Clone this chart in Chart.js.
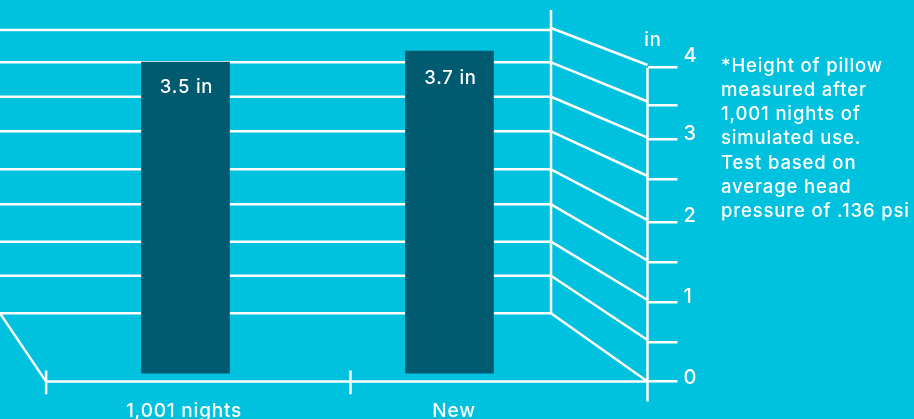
<!DOCTYPE html>
<html>
<head>
<meta charset="utf-8">
<script src="https://cdn.jsdelivr.net/npm/chart.js@4"></script>
<style>
  html, body { margin: 0; padding: 0; background: #00c1de; overflow: hidden; }
  #wrap { position: relative; width: 914px; height: 419px; }
  #note { position: absolute; left: 721px; top: 52.5px; color: #fff; font: 500 18.5px/24.3px Inter, sans-serif;
          letter-spacing: 0.85px; white-space: pre; }
</style>
</head>
<body>
<div id="wrap">
  <canvas id="myCanvas" width="914" height="419"></canvas>
  <div id="note">*Height of pillow
measured after
1,001 nights of
simulated use.
Test based on
average head
pressure of .136 psi</div>
</div>
<script>
const categories = ["1,001 nights", "New"];
const barSlots = [0, 1];
const barValues = [3.5, 3.7];
const barLabels = ["3.5 in", "3.7 in"];
const barLabelDrops = [25, 27];
const categoryLabelSlots = [-0.0057, 1.0171];

const tickLabels = ["0", "1", "2", "3", "4"];
const tickLabelHeights = [0.04, 1.072, 2.11, 3.155, 4.149];
// the drawn ticks are not evenly spaced in the picture
const axisTicks = [0, 0.505, 1.014, 1.52, 2.03, 2.578, 3.088, 3.525, 4];

// back wall, floor and side grid
const wallLevels = [0.87, 1.349, 1.783, 2.259, 2.705, 3.19, 3.63, 4.069, 4.48];
const slantStarts = [0.87, 1.349, 1.783, 2.259, 2.705, 3.19, 3.63, 4.069, 4.506];
const slantEnds = [0, 0.53, 1.04, 1.543, 2.059, 2.62, 3.11, 3.569, 4.034];

const xLeft = -0.7027;
const xFloor = -0.528;
const xMid = 0.625;
const xWall = 1.3845;
const xFront = 1.75;
const wallTop = 4.735;
const frontBottom = -0.255;
const floorTickTop = 0.14;
const floorTickBottom = -0.16;

function whiteLine(points) {
  return {
    type: "line",
    order: 1,
    data: points.map((p) => ({ x: p[0], y: p[1] })),
    borderColor: "#ffffff",
    borderWidth: 2.5,
    pointRadius: 0,
    clip: false,
    xAxisID: "x",
    yAxisID: "y",
  };
}

const lines = [];
for (let i = 0; i < wallLevels.length; i++) {
  lines.push(whiteLine([[xLeft, wallLevels[i]], [xWall, wallLevels[i]]]));
  lines.push(whiteLine([[xWall, slantStarts[i]], [xFront, slantEnds[i]]]));
}
lines.push(whiteLine([[xWall, wallTop], [xWall, wallLevels[0]]]));
lines.push(whiteLine([[xFront, 4], [xFront, frontBottom]]));
lines.push(whiteLine([[xFloor, 0], [xFront, 0]]));
lines.push(whiteLine([[xLeft, wallLevels[0]], [xFloor, 0]]));
lines.push(whiteLine([[xFloor, floorTickTop], [xFloor, floorTickBottom]]));
lines.push(whiteLine([[xMid, floorTickTop], [xMid, floorTickBottom]]));

const labelPlugin = {
  id: "labelPlugin",
  beforeDraw(chart) {
    chart.ctx.letterSpacing = "0.8px";
  },
  afterDatasetsDraw(chart) {
    const ctx = chart.ctx;
    const bars = chart.getDatasetMeta(0).data;
    ctx.save();
    ctx.fillStyle = "#ffffff";
    ctx.font = "500 18.5px Inter, sans-serif";
    ctx.textAlign = "center";
    ctx.textBaseline = "middle";
    bars.forEach((bar, i) => {
      ctx.fillText(barLabels[i], bar.x + 1, bar.y + barLabelDrops[i]);
    });
    ctx.fillText("in", 653, 40);
    ctx.restore();
  },
};

new Chart(document.getElementById("myCanvas"), {
  data: {
    datasets: [
      {
        type: "bar",
        order: 0,
        data: barSlots.map((s, i) => ({ x: s, y: barValues[i] })),
        backgroundColor: "#005b70",
        barThickness: 88,
        base: -2.158,
        clip: false,
        xAxisID: "x",
        yAxisID: "yBar",
      },
      ...lines,
    ],
  },
  plugins: [labelPlugin],
  options: {
    responsive: false,
    animation: false,
    layout: { padding: { top: 67.7, left: 0, right: 211.5, bottom: 0 } },
    plugins: { legend: { display: false }, tooltip: { enabled: false } },
    scales: {
      x: {
        type: "linear",
        offset: false,
        min: xLeft,
        max: xFront,
        grid: { display: false },
        border: { display: false },
        afterBuildTicks: (s) => {
          s.ticks = categoryLabelSlots.map((v) => ({ value: v }));
        },
        afterTickToLabelConversion: (s) => {
          s.ticks.forEach((t, i) => (t.label = categories[i]));
        },
        afterFit: (s) => {
          s.height = 37.4;
          s.paddingLeft = 0;
          s.paddingRight = 0;
        },
        ticks: {
          autoSkip: false,
          maxRotation: 0,
          color: "#ffffff",
          padding: 10,
          font: { family: "Inter", size: 19, weight: "500" },
        },
      },
      y: {
        type: "linear",
        position: "right",
        min: 0,
        max: 4,
        grid: { drawOnChartArea: false, color: "#ffffff", lineWidth: 2.5, tickLength: 30 },
        border: { display: false },
        afterBuildTicks: (s) => {
          s.ticks = axisTicks.map((v) => ({ value: v }));
        },
        afterFit: (s) => {
          s.width = 30;
          s.paddingTop = 0;
          s.paddingBottom = 0;
        },
        ticks: { display: false, autoSkip: false },
      },
      yLabels: {
        type: "linear",
        position: "right",
        min: 0,
        max: 4,
        grid: { display: false, drawTicks: false },
        border: { display: false },
        afterBuildTicks: (s) => {
          s.ticks = tickLabelHeights.map((v) => ({ value: v }));
        },
        afterTickToLabelConversion: (s) => {
          s.ticks.forEach((t, i) => (t.label = tickLabels[i]));
        },
        afterFit: (s) => {
          s.width = 25;
          s.paddingTop = 0;
          s.paddingBottom = 0;
        },
        ticks: {
          autoSkip: false,
          color: "#ffffff",
          padding: 6,
          font: { family: "Inter", size: 20, weight: "500" },
        },
      },
      // truncated scale: the bars stand further back than the front axis
      yBar: {
        type: "linear",
        display: false,
        min: -2.311,
        max: 3.396,
      },
    },
  },
});
</script>
</body>
</html>
